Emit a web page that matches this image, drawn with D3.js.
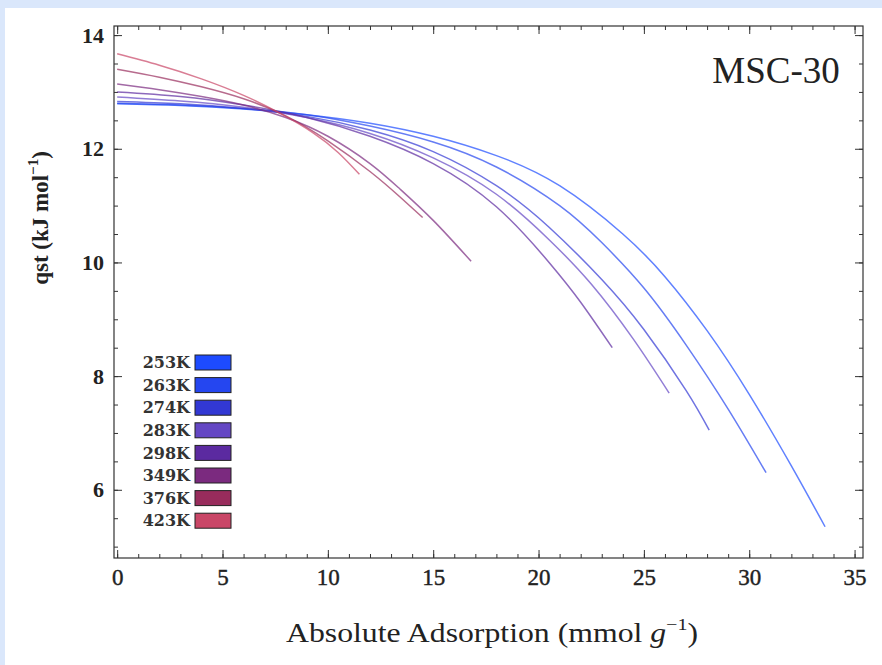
<!DOCTYPE html>
<html><head><meta charset="utf-8">
<script src="https://cdn.jsdelivr.net/npm/d3@7"></script>
<style>body{margin:0;background:#fff;} svg{display:block}</style>
</head><body>
<svg id="c" width="882" height="665"></svg>
<script>
// ---- data ----
const temperatures = ["253K","263K","274K","283K","298K","349K","376K","423K"];
const swatchColors = ["#1d4bff","#2546f0","#3238d4","#6447c4","#5b2aa0","#7b2a7f","#982c5c","#c94667"];
const q253 = [[0,12.79],[3,12.76],[6,12.70],[9,12.60],[12,12.45],[15,12.22],[18,11.88],[21,11.35],[24,10.50],[26,9.75],[28,8.80],[30,7.68],[32,6.42],[33.6,5.35]];
const q263 = [[0,12.80],[3,12.77],[6,12.71],[9,12.60],[12,12.40],[15,12.12],[18,11.68],[21,11.0],[23,10.35],[25,9.55],[27,8.55],[29,7.42],[30.8,6.30]];
const q274 = [[0,12.83],[3,12.79],[6,12.71],[9,12.57],[12,12.33],[15,11.95],[18,11.35],[20.5,10.62],[23,9.7],[25,8.82],[27,7.75],[28.1,7.05]];
const q283 = [[0,12.91],[3,12.84],[6,12.73],[9,12.55],[12,12.27],[15,11.84],[18,11.2],[20.5,10.4],[22.5,9.62],[24.5,8.65],[26.2,7.70]];
const q298 = [[0,13.0],[3,12.92],[6,12.77],[9,12.55],[12,12.22],[15,11.74],[18,10.98],[20.5,10.0],[22,9.3],[23.5,8.5]];
const q349 = [[0,13.14],[2,13.04],[4,12.92],[6,12.77],[8,12.55],[10,12.22],[12,11.74],[13.4,11.3],[15,10.74],[16.8,10.02]];
const q376 = [[0,13.40],[2,13.26],[4,13.09],[6,12.88],[8,12.58],[10,12.14],[12,11.6],[13.4,11.16],[14.5,10.79]];
const q423 = [[0,13.67],[2,13.47],[4,13.23],[6,12.94],[7.7,12.63],[9.3,12.28],[10.5,11.93],[11.5,11.55]];
const seriesValues = [q253,q263,q274,q283,q298,q349,q376,q423];
const xTickLabels = [0,5,10,15,20,25,30,35];
const yTickLabels = [6,8,10,12,14];
const chartTitle = "MSC-30";

// ---- layout ----
const svg = d3.select("#c");
const L = 114, R = 863, T = 26, B = 558;
const x = d3.scaleLinear().domain([-0.15, 35.4]).range([L, R]);
const y = d3.scaleLinear().domain([4.8, 14.16]).range([B, T]);

svg.append("rect").attr("width",882).attr("height",665).attr("fill","#ffffff");
svg.append("rect").attr("x",0).attr("y",0).attr("width",882).attr("height",8).attr("fill","#dae7fb");
svg.append("rect").attr("x",0).attr("y",0).attr("width",5).attr("height",665).attr("fill","#dae7fb");

const serif = "'Liberation Serif', 'DejaVu Serif', serif";
const frameColor = "#333";

const xMinor = d3.range(0, 36, 1);
const yMinor = d3.range(5, 14.01, 0.5);
function styleAxis(g){ g.select(".domain").remove(); g.selectAll("line").attr("stroke",frameColor).attr("stroke-width",1); }

svg.append("g").attr("transform",`translate(0,${B})`).call(d3.axisBottom(x).tickValues(xMinor).tickFormat("").tickSize(-4)).call(styleAxis);
svg.append("g").attr("transform",`translate(0,${T})`).call(d3.axisTop(x).tickValues(xMinor).tickFormat("").tickSize(-4)).call(styleAxis);
svg.append("g").attr("transform",`translate(${L},0)`).call(d3.axisLeft(y).tickValues(yMinor).tickFormat("").tickSize(-4)).call(styleAxis);
svg.append("g").attr("transform",`translate(${R},0)`).call(d3.axisRight(y).tickValues(yMinor).tickFormat("").tickSize(-4)).call(styleAxis);

const gx = svg.append("g").attr("transform",`translate(0,${B})`)
  .call(d3.axisBottom(x).tickValues(xTickLabels).tickFormat(d3.format("d")).tickSize(-8).tickPadding(10)).call(styleAxis);
gx.selectAll("text").attr("font-family",serif).attr("font-size",23).attr("fill","#222")
  .attr("stroke","#222").attr("stroke-width",0.4).attr("dy","0.72em");
svg.append("g").attr("transform",`translate(0,${T})`).call(d3.axisTop(x).tickValues(xTickLabels).tickFormat("").tickSize(-8)).call(styleAxis);
const gy = svg.append("g").attr("transform",`translate(${L},0)`)
  .call(d3.axisLeft(y).tickValues(yTickLabels).tickFormat(d3.format("d")).tickSize(-8).tickPadding(10)).call(styleAxis);
gy.selectAll("text").attr("font-family",serif).attr("font-size",22).attr("font-weight","bold").attr("fill","#222");
svg.append("g").attr("transform",`translate(${R},0)`).call(d3.axisRight(y).tickValues(yTickLabels).tickFormat("").tickSize(-8)).call(styleAxis);

svg.append("rect").attr("x",L).attr("y",T).attr("width",R-L).attr("height",B-T)
  .attr("fill","none").attr("stroke",frameColor).attr("stroke-width",1.2);

// curves
const line = d3.line().x(d=>x(d[0])).y(d=>y(d[1])).curve(d3.curveNatural);
svg.append("g").selectAll("path").data(seriesValues).join("path")
  .attr("d", line).attr("fill","none")
  .attr("stroke",(d,i)=>swatchColors[i]).attr("stroke-opacity",0.7).attr("stroke-width",1.5);

// legend
const lg = svg.append("g");
temperatures.forEach((t,i)=>{
  const cy = 362.5 + i*22.6;
  lg.append("text").attr("x",190).attr("y",cy).attr("dy","0.36em").attr("text-anchor","end")
    .attr("font-family","'DejaVu Serif', serif").attr("font-weight","bold").attr("font-size",16)
    .attr("fill","#333").text(t);
  lg.append("rect").attr("x",195).attr("y",cy-7.5).attr("width",36).attr("height",15)
    .attr("fill",swatchColors[i]).attr("stroke","#222").attr("stroke-width",1);
});

svg.append("text").attr("x",776).attr("y",83).attr("text-anchor","middle")
  .attr("font-family",serif).attr("font-size",37).attr("fill","#222").text(chartTitle);

const xt = svg.append("text").attr("x",492).attr("y",642).attr("text-anchor","middle")
  .attr("font-family",serif).attr("font-size",27).attr("fill","#222")
  .attr("textLength",412).attr("lengthAdjust","spacingAndGlyphs");
xt.append("tspan").text("Absolute Adsorption (mmol ");
xt.append("tspan").attr("font-style","italic").text("g");
xt.append("tspan").attr("font-size",17).attr("dy",-12).text("−1");
xt.append("tspan").attr("dy",12).text(")");

const yt = svg.append("text").attr("transform","translate(48,218) rotate(-90)").attr("text-anchor","middle")
  .attr("font-family",serif).attr("font-size",23).attr("font-weight","bold").attr("fill","#222");
yt.append("tspan").text("qst (kJ mol");
yt.append("tspan").attr("font-size",15).attr("dy",-10).text("−1");
yt.append("tspan").attr("dy",10).text(")");
</script>
</body></html>
